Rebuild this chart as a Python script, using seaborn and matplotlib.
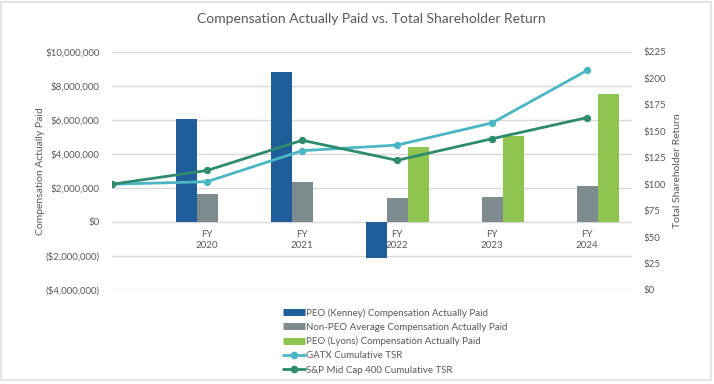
import matplotlib
matplotlib.use("Agg")
import matplotlib.pyplot as plt
import seaborn as sns
import pandas as pd
import numpy as np
from matplotlib.lines import Line2D
from matplotlib.patches import Rectangle

#------------------------------- DATA -------------------------------#
years = ["FY\n2020", "FY\n2021", "FY\n2022", "FY\n2023", "FY\n2024"]
kenney_cap = [6080000, 8820000, -2120000, np.nan, np.nan]
non_peo_cap = [1630000, 2370000, 1390000, 1490000, 2120000]
lyons_cap = [np.nan, np.nan, 4430000, 5060000, 7530000]

# TSR has a 2019 base point (100) before FY2020
gatx_tsr = [100, 102.4, 131.7, 137, 158, 207.7]
sp400_tsr = [100, 113, 141.5, 122.6, 143, 163]

bar_names = ["PEO (Kenney) Compensation Actually Paid",
             "Non-PEO Average Compensation Actually Paid",
             "PEO (Lyons) Compensation Actually Paid"]
line_names = ["GATX Cumulative TSR", "S&P Mid Cap 400 Cumulative TSR"]

left_ticks = [-4000000, -2000000, 0, 2000000, 4000000, 6000000, 8000000, 10000000]
right_ticks = [0, 25, 50, 75, 100, 125, 150, 175, 200, 225]

#------------------------------- STYLE -------------------------------#
BLUE = "#1F5E9A"
GREY = "#7D8A8E"
GREEN = "#8DC550"
TEAL = "#4BB6C4"
DKGREEN = "#2E8B6D"
TXT = "#595959"
GRID = "#D9D9D9"

sns.set_style("white")
plt.rcParams["font.family"] = ["Lato", "DejaVu Sans"]

df = pd.DataFrame({
    "x": np.tile(np.arange(1, 6), 3),
    "value": kenney_cap + non_peo_cap + lyons_cap,
    "series": np.repeat(bar_names, 5),
})

fig = plt.figure(figsize=(7.14, 3.84), dpi=100)
ax = fig.add_axes([0.157, 0.2448, 0.728, 0.6198])

sns.barplot(data=df, x="x", y="value", hue="series", hue_order=bar_names,
            palette=[BLUE, GREY, GREEN], native_scale=True, width=0.66,
            errorbar=None, legend=False, saturation=1, linewidth=0, ax=ax)

ax.set_xlim(0, 5.47)
ax.set_ylim(-4000000, 10000000)
ax.set_yticks(left_ticks)
ax.set_yticklabels(["($%s)" % format(-v, ",") if v < 0 else "$%s" % format(v, ",") for v in left_ticks])
ax.set_xticks(range(1, 6))
ax.set_xticklabels(years, linespacing=1.5)
ax.spines["bottom"].set_position(("data", 0))
for s in ax.spines.values():
    s.set_visible(False)
ax.grid(axis="y", color=GRID, linewidth=1)
ax.set_axisbelow(True)
ax.tick_params(axis="both", length=0, labelsize=7, colors=TXT)
ax.tick_params(axis="x", pad=6)
ax.tick_params(axis="y", pad=9)
ax.set_xlabel("")
ax.set_ylabel("Compensation Actually Paid", fontsize=7.5, color=TXT, labelpad=0)

ax2 = ax.twinx()
sns.lineplot(x=range(6), y=gatx_tsr, color=TEAL, linewidth=2, marker="o",
             markersize=4.5, markeredgecolor=TEAL, ax=ax2)
sns.lineplot(x=range(6), y=sp400_tsr, color=DKGREEN, linewidth=2, marker="o",
             markersize=4.5, markeredgecolor=DKGREEN, ax=ax2)
ax2.set_ylim(0, 225)
ax2.set_yticks(right_ticks)
ax2.set_yticklabels(["$%d" % v for v in right_ticks])
for s in ax2.spines.values():
    s.set_visible(False)
ax2.tick_params(axis="y", length=0, labelsize=7, colors=TXT, pad=8)
ax2.set_ylabel("Total Shareholder Return", fontsize=7.5, color=TXT, labelpad=5)

fig.suptitle("Compensation Actually Paid vs. Total Shareholder Return",
             x=0.52, y=0.965, fontsize=10, color=TXT)

handles = [Line2D([], [], color=BLUE, linewidth=5, solid_capstyle="butt"),
           Line2D([], [], color=GREY, linewidth=5, solid_capstyle="butt"),
           Line2D([], [], color=GREEN, linewidth=5, solid_capstyle="butt"),
           Line2D([], [], color=TEAL, linewidth=2, marker="o", markersize=4.5),
           Line2D([], [], color=DKGREEN, linewidth=2, marker="o", markersize=4.5)]
fig.legend(handles, bar_names + line_names, loc="upper left",
           bbox_to_anchor=(0.39, 0.21), frameon=False, fontsize=7,
           labelcolor=TXT, handlelength=2.2, handletextpad=0.1,
           labelspacing=0.52, borderpad=0)

fig.patches.append(Rectangle((0.002, 0.01), 0.994, 0.985, transform=fig.transFigure,
                             fill=False, edgecolor="#E3E3E3", linewidth=1.5))

fig.savefig("out.png", dpi=100)
